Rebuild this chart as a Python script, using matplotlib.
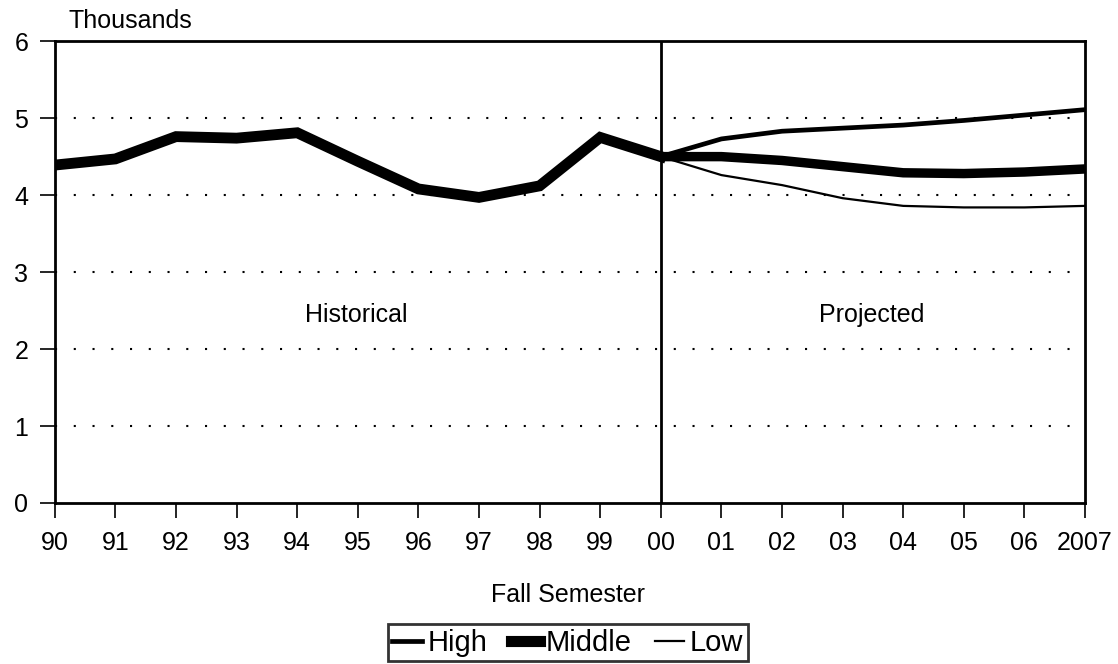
import matplotlib.pyplot as plt
from matplotlib.lines import Line2D

plt.rcParams["font.family"] = ["Liberation Sans", "DejaVu Sans"]

years = ["90", "91", "92", "93", "94", "95", "96", "97", "98", "99",
         "00", "01", "02", "03", "04", "05", "06", "2007"]
historical = [4.39, 4.47, 4.76, 4.74, 4.81, 4.44, 4.08, 3.97, 4.12, 4.75, 4.50]
high_proj = [4.50, 4.73, 4.83, 4.87, 4.91, 4.97, 5.04, 5.11]
middle_proj = [4.50, 4.50, 4.45, 4.37, 4.29, 4.28, 4.30, 4.34]
low_proj = [4.50, 4.26, 4.13, 3.96, 3.86, 3.84, 3.84, 3.86]

hist_x = list(range(len(historical)))
proj_x = list(range(len(historical) - 1, len(years)))

fig = plt.figure(figsize=(11.18, 6.64), dpi=100)
ax = fig.add_axes([0.049, 0.2425, 0.9215, 0.6955])

ax.plot(proj_x, high_proj, color="black", lw=3.4, solid_capstyle="butt", zorder=3)
ax.plot(proj_x, low_proj, color="black", lw=1.6, solid_capstyle="butt", zorder=3)
ax.plot(proj_x, middle_proj, color="black", lw=6.8, solid_capstyle="butt", zorder=4)
ax.plot(hist_x, historical, color="black", lw=7.8, solid_joinstyle="miter", zorder=4)

ax.axvline(10, color="black", lw=2, zorder=2)

ax.set_xlim(0, len(years) - 1)
ax.set_ylim(0, 6)
ax.set_xticks(range(len(years)))
ax.set_xticklabels(years)
ax.set_yticks(range(7))
ax.tick_params(axis="x", direction="out", length=11, width=1.2, labelsize=18, pad=9)
ax.tick_params(axis="y", direction="out", length=11, width=1.2, labelsize=18, pad=8)
for y in range(1, 6):
    ax.axhline(y, color="black", lw=1.5, linestyle=(0, (1, 8)), zorder=1)
for s in ax.spines.values():
    s.set_linewidth(2)

ax.text(4.98, 2.44, "Historical", fontsize=18, ha="center", va="center")
ax.text(13.48, 2.44, "Projected", fontsize=18, ha="center", va="center")

fig.text(0.061, 0.968, "Thousands", fontsize=18, ha="left", va="center")
fig.text(0.508, 0.104, "Fall Semester", fontsize=18, ha="center", va="center")

handles = [Line2D([], [], color="black", lw=3.4),
           Line2D([], [], color="black", lw=8),
           Line2D([], [], color="black", lw=1.6)]
leg = fig.legend(handles, ["High", "Middle", "Low"], loc="lower center",
                 bbox_to_anchor=(0.508, 0.0), ncol=3, fontsize=21, frameon=True,
                 fancybox=False, edgecolor="black", handlelength=1.0,
                 handletextpad=0.2, columnspacing=0.8, borderpad=0.15,
                 borderaxespad=0.1)
leg.get_frame().set_linewidth(2)

fig.savefig("out.png", dpi=100)
